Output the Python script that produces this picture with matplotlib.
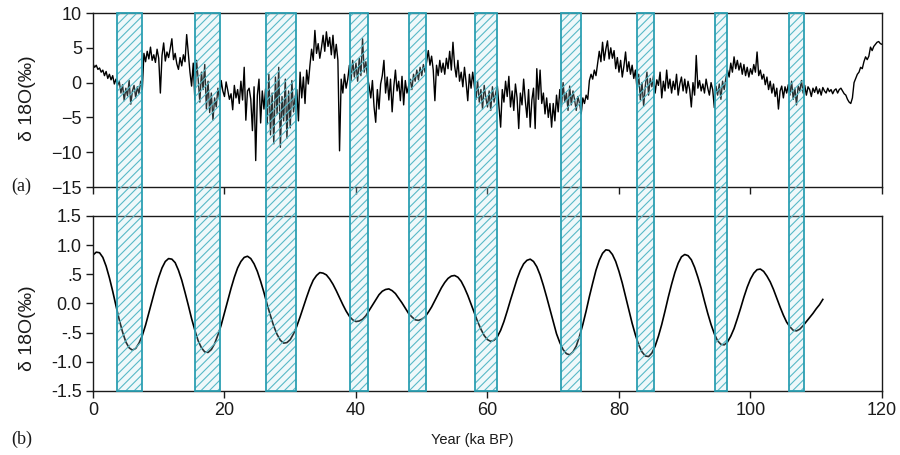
import numpy as np
import matplotlib
matplotlib.use("Agg")
import matplotlib.pyplot as plt
from matplotlib.patches import Rectangle
from matplotlib.transforms import blended_transform_factory

# Raw stalagmite delta-18O record, one value every 0.25 ka from 0 to 120 ka BP
raw_step = 0.25
raw_d18o = [
    2.7, 2.2, 2.5, 1.9, 2.1, 1.5, 1.8, 1.0, 1.6, 0.6, 1.2, 0.4, 1.0, -0.2, 0.5, -0.4,
    0.2, -1.5, -0.3, -2.6, -0.8, -1.9, 0.3, -3.1, -1.2, -0.4, -2.2, -0.6, -1.6, 0.2, -1.0, 4.2,
    3.0, 4.5, 3.4, 5.1, 3.2, 4.0, 2.9, 4.8, 3.5, -1.5, 3.9, 5.7, 3.1, 4.4, 3.6, 4.9,
    6.3, 3.3, 4.2, 2.7, 1.9, 3.6, 2.4, 4.0, 3.0, 6.9, 4.2, 1.5, -0.5, 2.8, -2.5, 3.2,
    0.5, -2.8, 1.5, -1.0, 2.6, -3.8, 0.2, -4.3, -1.5, -5.4, -2.2, -3.5, -0.8, -2.5, 0.3, -1.2,
    -2.0, 0.1, -1.1, -2.4, -1.6, -3.9, -0.4, -2.2, -1.0, -3.0, 0.2, -2.5, 2.2, -5.4, -1.2, -0.8,
    -2.4, -6.9, -0.6, -11.2, -1.8, 0.5, -5.8, -1.2, -3.8, -0.9, -6.0, 1.2, -7.5, -1.5, -8.8, 0.8,
    -4.5, 2.2, -9.3, -2.0, -5.5, 0.5, -8.0, -1.2, -6.5, 0.3, -4.2, -2.0, -1.0, -5.5, 1.5, -2.2,
    0.8, -3.0, 1.8, -0.2, 2.5, 4.8, 3.2, 7.5, 4.2, 5.6, 3.5, 5.0, 6.8, 4.5, 7.3, 5.2,
    6.5, 4.0, 6.8, 3.5, 5.5, 3.2, -9.8, 0.5, -1.5, 1.2, -0.8, 0.5, 2.5, 0.3, 3.2, 0.8,
    2.8, 0.2, 3.5, 1.0, 6.3, 1.5, 3.0, 0.8, -0.5, -2.2, 0.3, -3.5, -5.7, -1.0, -3.8, -0.2,
    1.0, 3.2, -1.5, 0.8, -2.5, 0.5, -4.2, -0.6, 1.8, -1.2, 0.2, -2.6, 0.9, -3.2, 0.3, -1.5,
    -0.5, 0.5, -1.0, 1.2, 0.2, 1.8, 0.4, 2.2, 1.0, 2.6, 1.5, 3.0, 4.6, 2.5, 3.8, 1.8,
    -2.6, 2.5, 1.0, 3.2, 1.5, 2.8, 1.2, 3.5, 2.0, 4.5, 1.8, 5.8, 2.4, 0.8, 3.2, 0.2,
    1.5, -0.6, 2.2, 0.0, -2.6, 1.2, -0.8, 1.5, -0.5, -2.4, 0.2, -2.8, -1.0, -3.8, -0.4, -2.2,
    -3.5, -1.2, -4.0, -0.6, -2.8, -1.5, -0.5, -3.5, -6.4, -1.0, -2.8, 0.2, -2.0, 0.9, -3.5, -1.2,
    -4.0, -0.2, -2.2, -6.6, -1.5, -3.2, 0.5, -2.6, -5.0, -1.0, -6.4, -2.5, -0.8, -6.6, 2.0, -2.4,
    1.8, -3.0, -1.5, -4.5, -2.2, -5.0, -3.0, -6.4, -3.0, -5.5, -1.8, -4.2, -1.0, -3.5, 0.0, -2.8,
    -1.5, -4.0, -0.5, -3.2, -1.2, -2.5, -4.0, -2.0, -3.0, -4.5, -2.2, -3.0, -1.8, -2.4, 0.3, 1.2,
    0.5, 1.8, 1.0, 2.8, 4.5, 3.0, 5.8, 3.2, 4.8, 6.0, 3.4, 5.0, 3.5, 4.6, 2.0, 3.6,
    1.5, 3.2, 0.8, 2.4, 4.4, 1.6, 3.0, 1.2, 2.5, 0.6, 1.8, -1.0, 1.2, -2.5, 0.0, -3.4,
    -0.5, 1.5, -1.8, 0.6, -0.6, 1.0, -1.5, 0.4, -0.4, 1.5, -2.2, 0.2, -1.2, 1.8, -0.8, 0.5,
    -1.5, 0.2, -1.0, 1.2, -1.8, -0.2, 0.8, -1.2, 0.5, -1.5, 0.2, -1.0, -3.5, 0.0, -1.8, 3.9,
    -0.8, 0.3, -1.2, -0.2, -1.5, 0.5, -0.8, -1.8, 0.0, -1.0, -3.6, -0.5, -1.8, -0.2, -2.4, 0.2,
    -1.0, 0.6, 1.8, 0.8, 2.8, 1.5, 3.7, 2.0, 3.2, 1.8, 2.8, 1.2, 2.6, 1.0, 2.2, 0.8,
    2.0, 1.2, 2.6, 1.5, 4.4, 1.0, 1.8, 0.5, 1.2, -0.3, 0.8, -1.0, 0.2, -1.5, -0.2, -2.0,
    -0.8, -3.8, -1.2, -0.5, -2.2, -0.6, -1.5, -0.3, -1.8, 0.2, -2.4, -0.8, -3.2, -0.5, -1.2, 0.3,
    -1.5, -0.4, -1.8, -0.6, -1.0, -2.0, -0.8, -1.4, -0.6, -1.6, -0.9, -1.8, -0.7, -1.2, -1.5, -0.8,
    -1.3, -1.0, -1.6, -1.1, -0.9, -1.5, -1.0, -0.8, -1.2, -1.6, -1.8, -2.4, -2.8, -3.0, -2.2, 0.0,
    0.6, 1.2, 1.5, 2.2, 2.0, 3.0, 3.7, 3.3, 3.8, 5.1, 4.6, 5.2, 5.5, 5.8, 5.9, 5.6,
    5.5,
]

# Band-pass filtered component, one value every 0.5 ka from 0 to 111 ka BP
filt_step = 0.5
filt_d18o = [
    0.83, 0.88, 0.87, 0.79, 0.64, 0.44, 0.21, -0.04, -0.28, -0.49,
    -0.66, -0.76, -0.80, -0.77, -0.68, -0.55, -0.37, -0.16, 0.05, 0.26,
    0.45, 0.61, 0.72, 0.77, 0.76, 0.70, 0.57, 0.40, 0.19, -0.03,
    -0.26, -0.46, -0.64, -0.76, -0.83, -0.84, -0.79, -0.69, -0.54, -0.37,
    -0.16, 0.05, 0.26, 0.45, 0.61, 0.72, 0.79, 0.81, 0.77, 0.68,
    0.55, 0.38, 0.19, -0.02, -0.21, -0.39, -0.53, -0.63, -0.68, -0.67,
    -0.62, -0.52, -0.39, -0.23, -0.06, 0.11, 0.27, 0.40, 0.48, 0.53,
    0.52, 0.49, 0.42, 0.33, 0.22, 0.10, -0.02, -0.13, -0.22, -0.28,
    -0.31, -0.30, -0.27, -0.21, -0.12, -0.03, 0.06, 0.15, 0.21, 0.24,
    0.25, 0.22, 0.17, 0.09, 0.01, -0.08, -0.17, -0.23, -0.28, -0.29,
    -0.27, -0.23, -0.15, -0.06, 0.05, 0.16, 0.27, 0.36, 0.43, 0.47,
    0.48, 0.45, 0.38, 0.27, 0.14, -0.01, -0.16, -0.31, -0.44, -0.55,
    -0.62, -0.65, -0.63, -0.57, -0.46, -0.31, -0.13, 0.06, 0.24, 0.42,
    0.57, 0.68, 0.74, 0.76, 0.72, 0.63, 0.49, 0.31, 0.11, -0.10,
    -0.31, -0.52, -0.67, -0.79, -0.86, -0.88, -0.83, -0.73, -0.56, -0.36,
    -0.13, 0.12, 0.35, 0.57, 0.74, 0.86, 0.92, 0.91, 0.84, 0.72,
    0.55, 0.35, 0.12, -0.11, -0.34, -0.54, -0.71, -0.83, -0.90, -0.91,
    -0.85, -0.73, -0.56, -0.36, -0.13, 0.11, 0.33, 0.53, 0.69, 0.80,
    0.84, 0.82, 0.75, 0.62, 0.45, 0.26, 0.04, -0.17, -0.36, -0.52,
    -0.64, -0.70, -0.71, -0.66, -0.56, -0.43, -0.26, -0.08, 0.11, 0.28,
    0.42, 0.52, 0.58, 0.59, 0.55, 0.47, 0.37, 0.24, 0.09, -0.06,
    -0.20, -0.32, -0.40, -0.46, -0.47, -0.44, -0.38, -0.31, -0.24, -0.17,
    -0.09, -0.02, 0.07,
]

# Shaded intervals (ka BP)
band_start = [3.7, 15.5, 26.3, 39.1, 48.0, 58.1, 71.2, 82.7, 94.6, 105.9]
band_end = [7.4, 19.3, 30.9, 41.9, 50.7, 61.4, 74.2, 85.4, 96.5, 108.2]

# Axis ticks
x_ticks = [0, 20, 40, 60, 80, 100, 120]
top_yticks = [-15, -10, -5, 0, 5, 10]
bot_yticks = [-1.5, -1.0, -0.5, 0.0, 0.5, 1.0, 1.5]
bot_ylabels = ["-1.5", "-1.0", "-.5", "0.0", ".5", "1.0", "1.5"]

raw_age = np.arange(len(raw_d18o)) * raw_step
filt_age = np.arange(len(filt_d18o)) * filt_step

plt.rcParams["font.family"] = ["Liberation Sans", "DejaVu Sans"]
plt.rcParams["hatch.linewidth"] = 0.8

fig = plt.figure(figsize=(9.0, 4.55), dpi=100)
ax1 = fig.add_axes([0.1033, 0.589, 0.8767, 0.3824])
ax2 = fig.add_axes([0.1033, 0.1407, 0.8767, 0.3846])

ink = "#1a1a1a"
for ax in (ax1, ax2):
    ax.set_xlim(0, 120)
    ax.set_xticks(x_ticks)
    for sp in ax.spines.values():
        sp.set_linewidth(1.0)
        sp.set_color(ink)
    ax.tick_params(direction="out", length=5, width=1.0, color=ink,
                   labelsize=13, labelcolor=ink, pad=3)

ax1.plot(raw_age, raw_d18o, color="black", lw=1.0)
ax1.set_ylim(-15, 10)
ax1.set_yticks(top_yticks)
ax1.tick_params(axis="x", labelbottom=False)

ax2.plot(filt_age, filt_d18o, color="black", lw=1.2)
ax2.set_ylim(-1.5, 1.5)
ax2.set_yticks(bot_yticks)
ax2.set_yticklabels(bot_ylabels)

# Hatched intervals spanning both panels
pos1 = ax1.get_position()
pos2 = ax2.get_position()
y0, y1 = pos2.y0, pos1.y1
trans = blended_transform_factory(ax2.transData, fig.transFigure)
for s, e in zip(band_start, band_end):
    fig.add_artist(Rectangle((s, y0), e - s, y1 - y0, transform=trans,
                             facecolor="#b9e3ea", edgecolor="none", alpha=0.22,
                             zorder=2))
    fig.add_artist(Rectangle((s, y0), e - s, y1 - y0, transform=trans,
                             facecolor="none", edgecolor="#58b9c7", hatch="////",
                             linewidth=0, zorder=3))
    fig.add_artist(Rectangle((s, y0), e - s, y1 - y0, transform=trans,
                             facecolor="none", edgecolor="#2b9fb2", linewidth=1.3,
                             zorder=4))

ylab = "δ 18O(‰)"
fig.text(0.031, 0.785, ylab, rotation=90, ha="center", va="center",
         fontsize=14, color=ink)
fig.text(0.031, 0.279, ylab, rotation=90, ha="center", va="center",
         fontsize=14, color=ink)
fig.text(0.525, 0.033, "Year (ka BP)", ha="center", va="center",
         fontsize=10.5, color=ink)
fig.text(0.024, 0.591, "(a)", ha="center", va="center", fontsize=13,
         family=["Liberation Serif", "DejaVu Serif"], color=ink)
fig.text(0.024, 0.035, "(b)", ha="center", va="center", fontsize=13,
         family=["Liberation Serif", "DejaVu Serif"], color=ink)

fig.savefig("out.png", dpi=100)
